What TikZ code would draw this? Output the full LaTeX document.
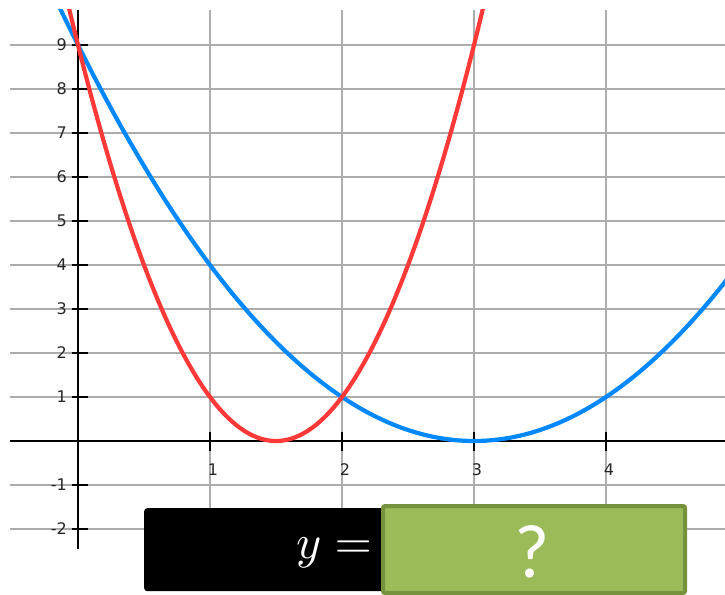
\documentclass[tikz,border=0pt]{standalone}
\usepackage{fontspec}
\setmainfont{DejaVu Sans}
\newfontfamily\qfont{Carlito}
\definecolor{curveblue}{RGB}{0,136,255}
\definecolor{curvered}{RGB}{255,56,56}
\definecolor{gridgray}{RGB}{172,172,172}
\definecolor{boxgreen}{RGB}{155,187,89}
\definecolor{boxedge}{RGB}{118,146,60}
\tikzset{
  gridline/.style={draw=gridgray, line width=1.8pt},
  axisline/.style={draw=black, line width=2.4pt},
  tickline/.style={draw=black, line width=2.4pt},
  curve/.style={line width=4.2pt, smooth, samples=120},
  ylab/.style={anchor=east, inner sep=0pt, font=\fontsize{16}{16}\selectfont, text=black!85},
  xlab/.style={anchor=center, inner sep=0pt, font=\fontsize{16}{16}\selectfont, text=black!85},
}
\begin{document}
\begin{tikzpicture}[x=1pt,y=-1pt]
\useasboundingbox (0,0) rectangle (725,594);
% grid
\foreach \k in {-2,...,9} \draw[gridline] (10,{441-44*\k}) -- (725,{441-44*\k});
\foreach \k in {1,...,4} \draw[gridline] ({78+132*\k},10) -- ({78+132*\k},545);
% axes
\coordinate (xa) at (10,441);
\coordinate (xb) at (725,441);
\coordinate (ya) at (78,10);
\coordinate (yb) at (78,549);
\draw[axisline] (xa) -- (xb);
\draw[axisline] (ya) -- (yb);
% y ticks and labels
\foreach \k in {-2,-1,1,2,3,4,5,6,7,8,9} {
  \draw[tickline] (72,{441-44*\k}) -- (88,{441-44*\k});
  \node[ylab] (yl\k) at (67,{441-44*\k}) {\k};
}
% x ticks and labels
\foreach \k in {1,...,4} {
  \draw[tickline] ({78+132*\k},432) -- ({78+132*\k},451);
  \node[xlab] (xl\k) at ({81+132*\k},470) {\k};
}
% curves
\begin{scope}
\clip (0,10) rectangle (725,594);
\draw[curve, curveblue] plot[domain=-0.16:4.95] ({78+132*\x},{441-44*(\x-3)^2});
\draw[curve, curvered] plot[domain=-0.09:3.09] ({78+132*\x},{441-44*(2*\x-3)^2});
\end{scope}
% equation boxes
\node[fill=black, rounded corners=3pt, minimum width=250pt, minimum height=83pt, anchor=north west, inner sep=0pt] (eqbox) at (144,508) {};
\node[text=white, inner sep=0pt] (eqtext) at (334,553) {\scalebox{4.8}{$y=$}};
\node[fill=boxgreen, draw=boxedge, line width=4pt, rounded corners=2pt, minimum width=302pt, minimum height=87pt, anchor=north west, inner sep=0pt] (ansbox) at (381,504) {};
\node[text=white, inner sep=0pt, font=\qfont\fontsize{76}{76}\selectfont] (qmark) at (532,552) {?};
\end{tikzpicture}
\end{document}
